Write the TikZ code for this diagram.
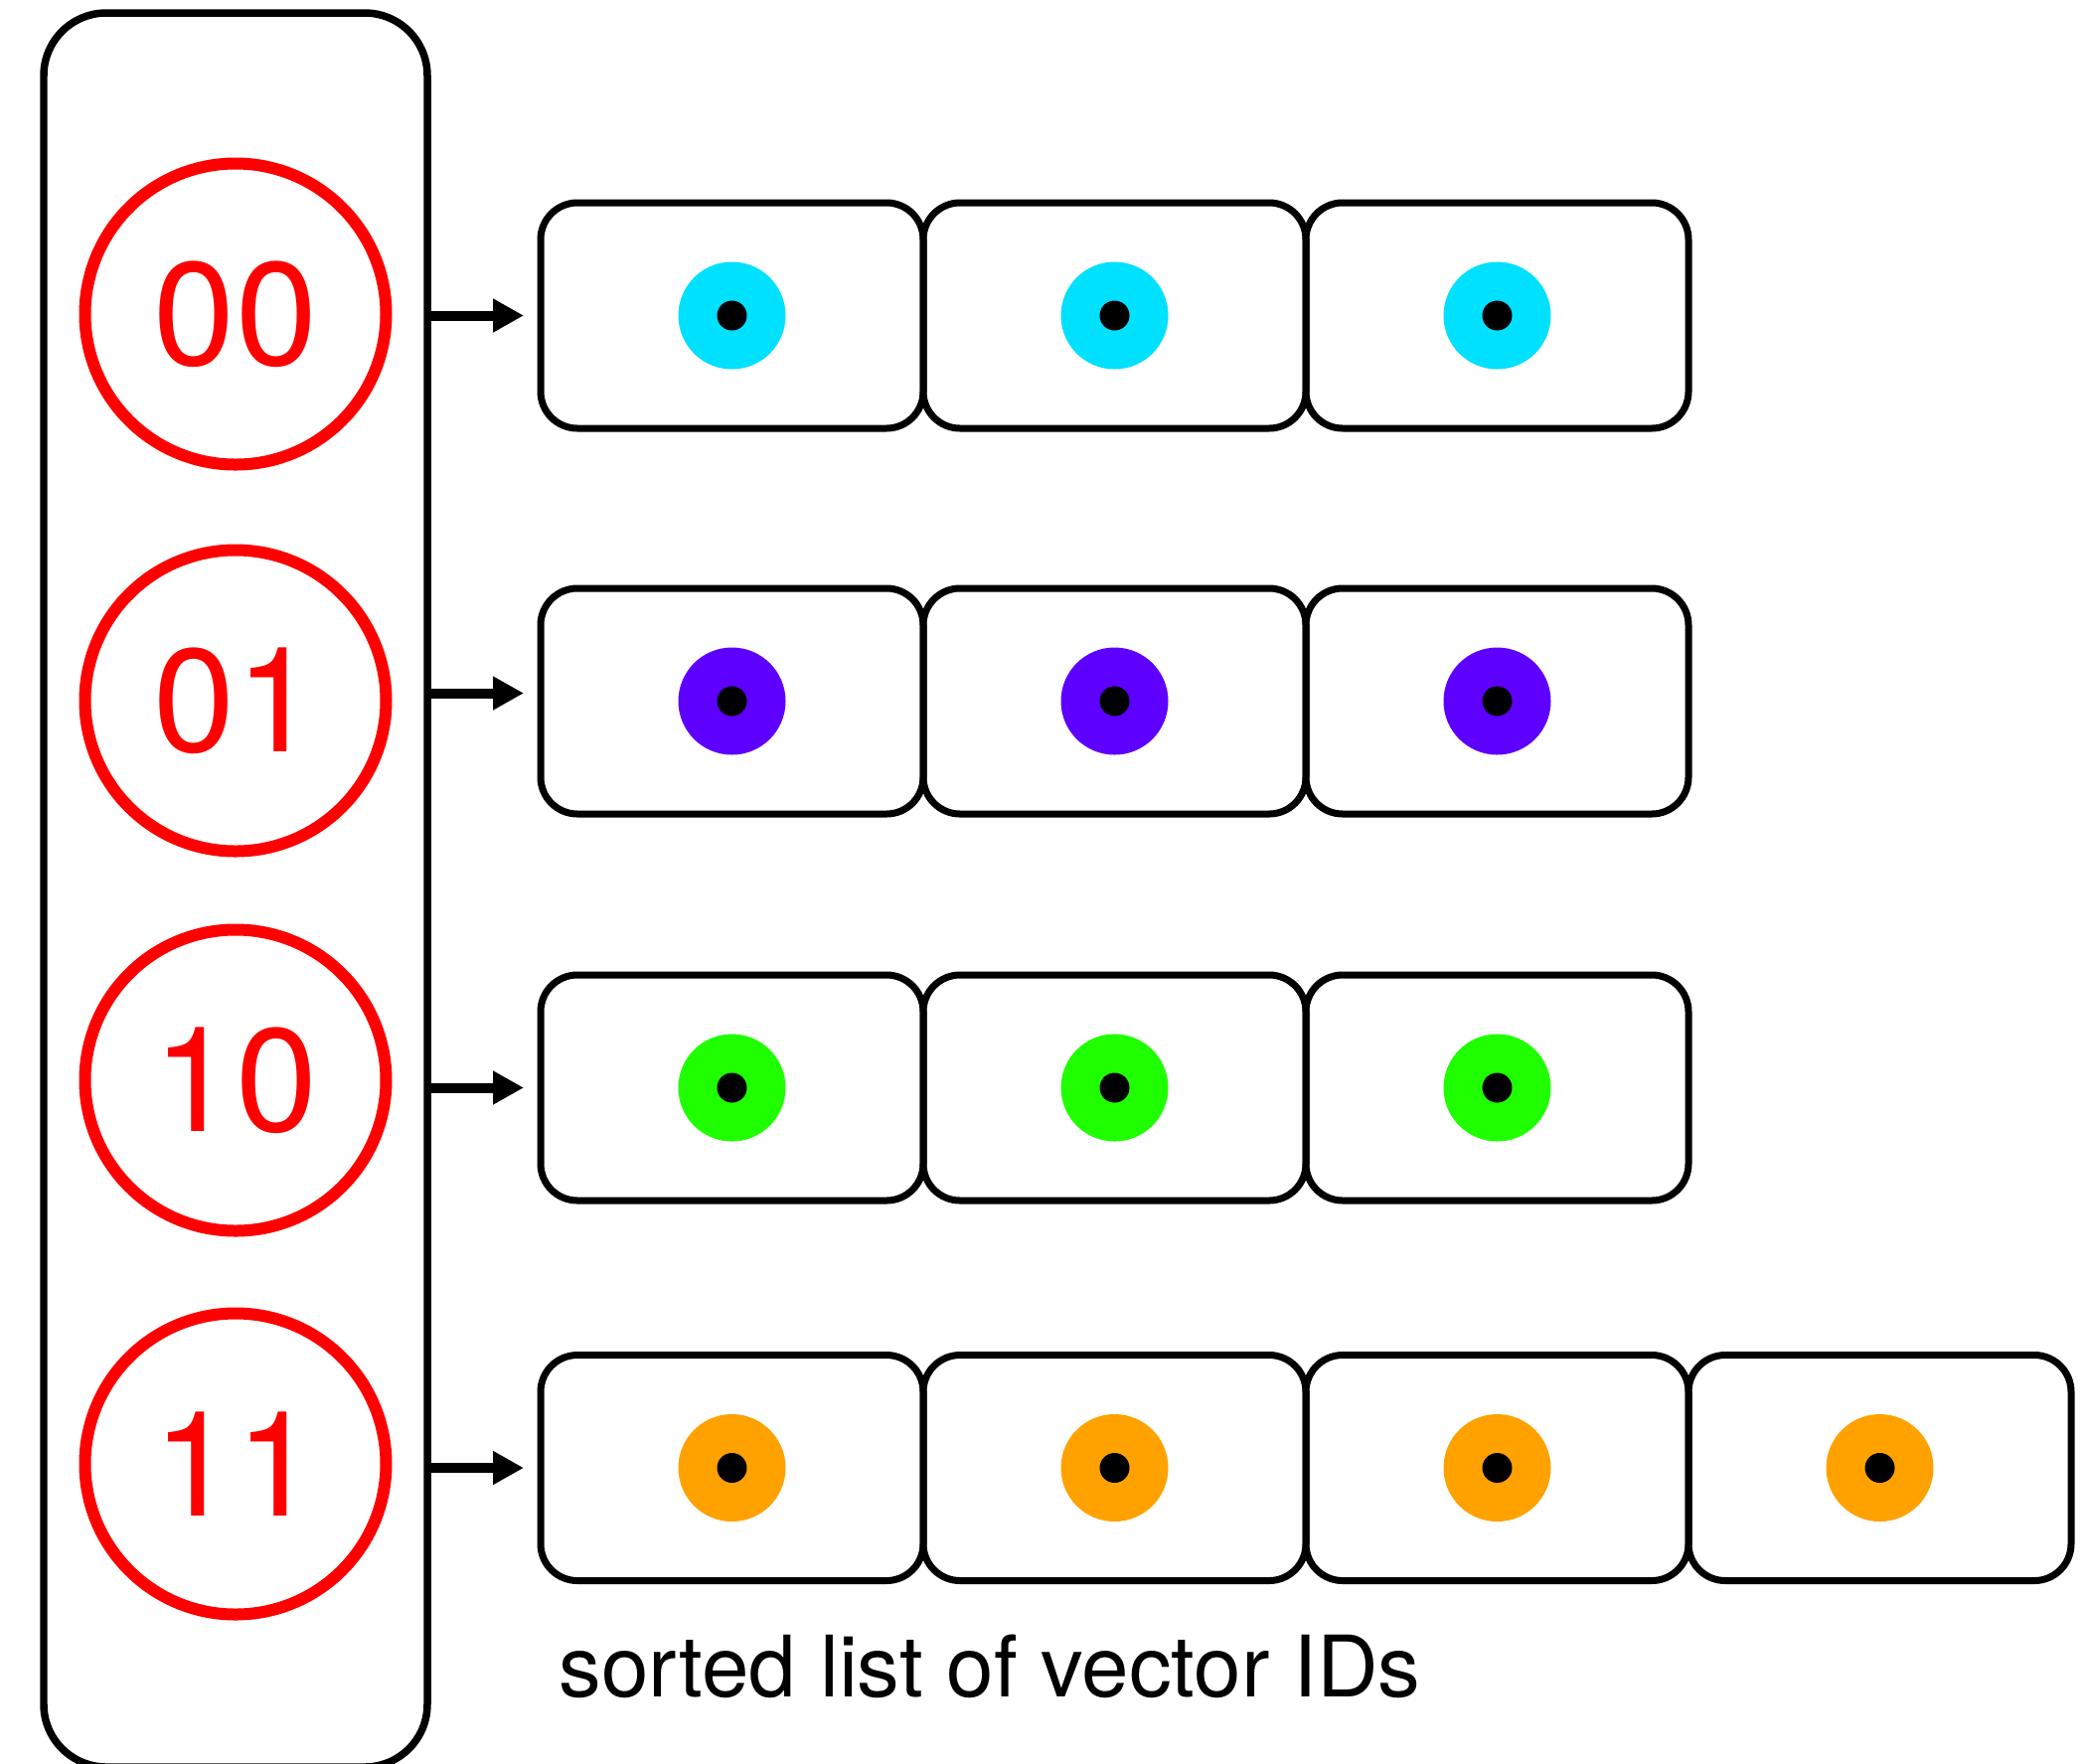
\documentclass[tikz,border=0pt]{standalone}
\usepackage{fontspec}
\setmainfont{TeX Gyre Heros}
\usepackage{xcolor}
\usetikzlibrary{arrows.meta,positioning}

\definecolor{idcyan}{HTML}{00E0FF}
\definecolor{idviolet}{HTML}{5E00FF}
\definecolor{idgreen}{HTML}{1FFF00}
\definecolor{idorange}{HTML}{FFA200}

\begin{document}
\begin{tikzpicture}[
    table/.style={draw, line width=0.075cm, rounded corners=0.63cm,
                  minimum width=3.86cm, minimum height=17.65cm},
    key/.style={circle, draw=red, line width=0.12cm, text=red,
                minimum size=3.03cm, inner sep=0pt,
                font=\fontsize{42}{50}\selectfont},
    % list entry: rounded box with a coloured ID marker in the middle
    cell/.style={draw, line width=0.07cm, rounded corners=0.37cm,
                 minimum width=3.85cm, minimum height=2.27cm, outer sep=0pt,
                 path picture={
                   \fill[#1] (path picture bounding box.center) circle (0.54);
                   \fill[black] (path picture bounding box.center) circle (0.15);}},
    arr/.style={-{Triangle[length=0.31cm, width=0.32cm]},
                line width=0.1cm, shorten >=0.17cm},
    lbl/.style={font=\fontsize{24.3}{29}\selectfont, inner sep=0pt},
]

\useasboundingbox (0,0) rectangle (21.01,-17.74);
\clip (0,0) rectangle (21.01,-17.74);

%% ── Hash table with the bucket keys ─────────────────────────────────────────
\node[table] (table) at (2.37, -8.955) {};
\node[key]   (k00)   at (2.37, -3.16)  {00};
\node[key]   (k01)   at (2.37, -7.05)  {01};
\node[key]   (k10)   at (2.37, -10.87) {10};
\node[key]   (k11)   at (2.37, -14.73) {11};

%% ── Bucket 00 ───────────────────────────────────────────────────────────────
\node[cell=idcyan] (l00a) at (7.365, -3.175) {};
\node[cell=idcyan] (l00b) [right=0pt of l00a] {};
\node[cell=idcyan] (l00c) [right=0pt of l00b] {};

%% ── Bucket 01 ───────────────────────────────────────────────────────────────
\node[cell=idviolet] (l01a) at (7.365, -7.055) {};
\node[cell=idviolet] (l01b) [right=0pt of l01a] {};
\node[cell=idviolet] (l01c) [right=0pt of l01b] {};

%% ── Bucket 10 ───────────────────────────────────────────────────────────────
\node[cell=idgreen] (l10a) at (7.365, -10.945) {};
\node[cell=idgreen] (l10b) [right=0pt of l10a] {};
\node[cell=idgreen] (l10c) [right=0pt of l10b] {};

%% ── Bucket 11 (one entry longer) ────────────────────────────────────────────
\node[cell=idorange] (l11a) at (7.365, -14.77) {};
\node[cell=idorange] (l11b) [right=0pt of l11a] {};
\node[cell=idorange] (l11c) [right=0pt of l11b] {};
\node[cell=idorange] (l11d) [right=0pt of l11c] {};

%% ── Pointers from the table to each list ────────────────────────────────────
\draw[arr] (table.east |- l00a) -- (l00a.west);
\draw[arr] ([yshift=0.08cm]table.east |- l01a) -- ([yshift=0.08cm]l01a.west);
\draw[arr] (table.east |- l10a) -- (l10a.west);
\draw[arr] (table.east |- l11a) -- (l11a.west);

%% ── Caption ─────────────────────────────────────────────────────────────────
\node[lbl, anchor=base west] (caption) at (5.62, -17.07)
  {sorted list of vector IDs};

\end{tikzpicture}
\end{document}
